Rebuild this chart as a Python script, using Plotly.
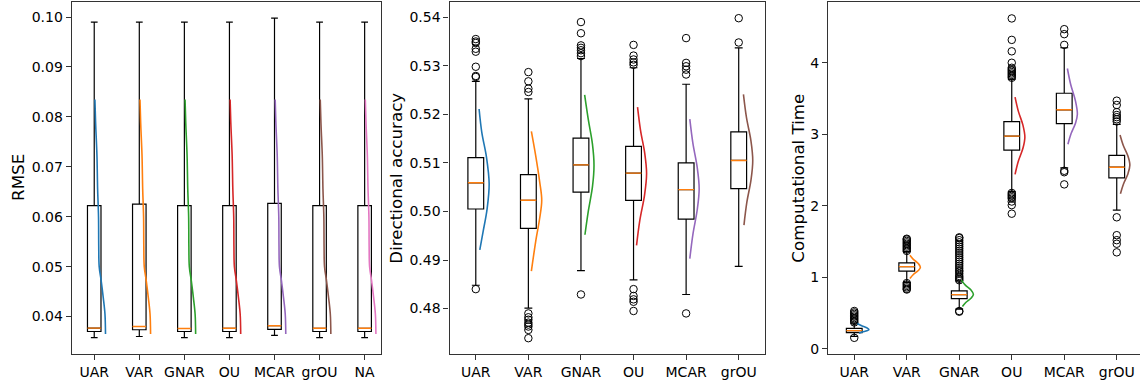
import plotly.graph_objects as go

W, H = 1140, 383
colors = ["#1f77b4", "#ff7f0e", "#2ca02c", "#d62728", "#9467bd", "#8c564b", "#e377c2"]

# ---------------- Panel 1: RMSE ----------------
rmse_cats = ["UAR", "VAR", "GNAR", "OU", "MCAR", "grOU", "NA"]
rmse_lo = [0.03576, 0.0360, 0.03576, 0.03576, 0.03622, 0.03576, 0.03576]
rmse_q1 = [0.0370, 0.03735, 0.0370, 0.0370, 0.03742, 0.0370, 0.0370]
rmse_med = [0.03767, 0.0380, 0.03760, 0.03765, 0.03815, 0.03765, 0.03765]
rmse_q3 = [0.0622, 0.06253, 0.0622, 0.0622, 0.06266, 0.0622, 0.0622]
rmse_hi = [0.0990, 0.0990, 0.0990, 0.0990, 0.0998, 0.0990, 0.0990]
# density curve (value, horizontal extent in category units), same shape for each model
rmse_curve_vals = [0.0835, 0.0789, 0.0723, 0.0656, 0.0600, 0.0540, 0.0500, 0.0471, 0.0438, 0.0405, 0.0365]
rmse_curve_offs = [0.015, 0.03, 0.06, 0.075, 0.095, 0.100, 0.11, 0.155, 0.20, 0.238, 0.25]

# ---------------- Panel 2: Directional accuracy ----------------
da_cats = ["UAR", "VAR", "GNAR", "OU", "MCAR", "grOU"]
da_lo = [0.4848, 0.4801, 0.4878, 0.4859, 0.4829, 0.4887]
da_q1 = [0.5005, 0.4965, 0.5040, 0.5023, 0.4984, 0.5047]
da_med = [0.5059, 0.5023, 0.5096, 0.5079, 0.5045, 0.5105]
da_q3 = [0.5111, 0.5076, 0.5151, 0.5134, 0.5100, 0.5164]
da_hi = [0.5268, 0.5232, 0.5315, 0.5296, 0.5262, 0.5337]
da_outliers = [
    [0.5355, 0.5350, 0.5347, 0.5335, 0.5329, 0.5298, 0.5279, 0.5277, 0.4840],
    [0.5287, 0.5268, 0.5253, 0.5246, 0.4790, 0.4782, 0.4777, 0.4771, 0.4767, 0.4763, 0.4756, 0.4739],
    [0.5390, 0.5367, 0.5342, 0.5337, 0.5332, 0.5326, 0.5320, 0.4829],
    [0.5343, 0.5321, 0.5313, 0.5307, 0.5302, 0.4840, 0.4826, 0.4819, 0.4814, 0.4795],
    [0.5357, 0.5306, 0.5299, 0.5292, 0.5282, 0.4790],
    [0.5398, 0.5348],
]
da_curve_vals = [
    [0.5211, 0.5163, 0.5112, 0.5057, 0.5006, 0.4959, 0.4921],
    [0.5165, 0.5115, 0.5061, 0.5023, 0.4986, 0.4938, 0.4877],
    [0.5240, 0.5189, 0.5139, 0.5095, 0.5052, 0.5002, 0.4952],
    [0.5215, 0.5167, 0.5119, 0.5078, 0.5034, 0.4982, 0.4930],
    [0.5190, 0.5140, 0.5090, 0.5047, 0.5004, 0.4953, 0.4903],
    [0.5241, 0.5193, 0.5146, 0.5105, 0.5065, 0.5019, 0.4972],
]
da_curve_offs = [
    [0.063, 0.114, 0.203, 0.254, 0.216, 0.140, 0.076],
    [0.057, 0.139, 0.215, 0.254, 0.215, 0.139, 0.057],
    [0.070, 0.140, 0.218, 0.248, 0.220, 0.142, 0.076],
    [0.076, 0.133, 0.214, 0.248, 0.210, 0.120, 0.057],
    [0.070, 0.129, 0.212, 0.248, 0.212, 0.129, 0.070],
    [0.090, 0.148, 0.232, 0.267, 0.234, 0.155, 0.100],
]

# ---------------- Panel 3: Computational Time ----------------
ct_cats = ["UAR", "VAR", "GNAR", "OU", "MCAR", "grOU"]
ct_lo = [0.175, 0.93, 0.555, 2.20, 2.53, 1.94]
ct_q1 = [0.227, 1.087, 0.703, 2.78, 3.149, 2.39]
ct_med = [0.255, 1.151, 0.759, 2.974, 3.343, 2.54]
ct_q3 = [0.287, 1.202, 0.81, 3.176, 3.574, 2.705]
ct_hi = [0.36, 1.36, 0.95, 3.77, 4.21, 3.14]
ct_outliers = [
    [0.37, 0.39, 0.41, 0.43, 0.45, 0.47, 0.49, 0.51, 0.53, 0.155],
    [1.37, 1.39, 1.41, 1.43, 1.45, 1.47, 1.49, 1.51, 1.53, 1.54, 0.92, 0.90, 0.88, 0.86, 0.84, 0.83],
    [0.96, 0.98, 1.00, 1.02, 1.05, 1.08, 1.10, 1.13, 1.16, 1.19, 1.22, 1.25, 1.28, 1.31, 1.34,
     1.37, 1.40, 1.43, 1.46, 1.49, 1.52, 1.55, 1.56, 0.53, 0.52],
    [3.79, 3.81, 3.83, 3.85, 3.87, 3.89, 3.91, 3.93, 4.00, 4.16, 4.32, 4.62,
     2.18, 2.16, 2.14, 2.12, 2.10, 2.06, 2.01, 1.89],
    [4.25, 4.40, 4.47, 2.49, 2.47, 2.30],
    [3.47, 3.41, 3.31, 3.27, 3.24, 3.21, 3.18, 1.84, 1.59, 1.52, 1.47, 1.35],
]
ct_curve_vals = [
    [0.356, 0.326, 0.296, 0.27, 0.254, 0.236, 0.218],
    [1.31, 1.252, 1.193, 1.143, 1.096, 1.040, 0.985],
    [0.962, 0.892, 0.823, 0.763, 0.712, 0.652, 0.592],
    [3.52, 3.324, 3.128, 2.96, 2.804, 2.622, 2.44],
    [3.92, 3.696, 3.472, 3.28, 3.154, 3.007, 2.86],
    [2.99, 2.843, 2.696, 2.57, 2.45, 2.31, 2.17],
]
ct_curve_offs = [
    [0.06, 0.133, 0.236, 0.28, 0.242, 0.153, 0.09],
    [0.06, 0.126, 0.22, 0.26, 0.22, 0.126, 0.06],
    [0.04, 0.116, 0.224, 0.27, 0.228, 0.129, 0.06],
    [0.063, 0.125, 0.213, 0.25, 0.213, 0.125, 0.063],
    [0.06, 0.123, 0.212, 0.25, 0.214, 0.129, 0.07],
    [0.063, 0.125, 0.213, 0.25, 0.214, 0.13, 0.07],
]

FONT = "DejaVu Sans"
fig = go.Figure()


def px_x(p):
    return p / W


def px_y(p):
    return (H - p) / H


def add_panel(idx, cats, lo, q1, med, q3, hi, outliers, cvals, coffs, shared_curve=False):
    xa = "x" if idx == 1 else f"x{idx}"
    ya = "y" if idx == 1 else f"y{idx}"
    pos = list(range(1, len(cats) + 1))
    fig.add_trace(go.Box(
        x=pos, q1=q1, median=med, q3=q3, lowerfence=lo, upperfence=hi,
        width=0.3, whiskerwidth=0.5, boxpoints=False,
        line=dict(color="black", width=1.2), fillcolor="rgba(0,0,0,0)",
        xaxis=xa, yaxis=ya, showlegend=False, hoverinfo="skip"))
    for i, p in enumerate(pos):
        fig.add_trace(go.Scatter(
            x=[p - 0.15, p + 0.15], y=[med[i], med[i]], mode="lines",
            line=dict(color="#ff7f0e", width=1.4), xaxis=xa, yaxis=ya,
            showlegend=False, hoverinfo="skip"))
    if outliers is not None:
        for i, p in enumerate(pos):
            fig.add_trace(go.Scatter(
                x=[p] * len(outliers[i]), y=outliers[i], mode="markers",
                marker=dict(symbol="circle-open", size=7.5, color="black", line=dict(width=1)),
                xaxis=xa, yaxis=ya, showlegend=False, hoverinfo="skip"))
    for i, p in enumerate(pos):
        vals = cvals if shared_curve else cvals[i]
        offs = coffs if shared_curve else coffs[i]
        fig.add_trace(go.Scatter(
            x=[p + o for o in offs], y=vals, mode="lines",
            line=dict(color=colors[i], width=1.6, shape="spline", smoothing=1.0),
            xaxis=xa, yaxis=ya, showlegend=False, hoverinfo="skip"))


add_panel(1, rmse_cats, rmse_lo, rmse_q1, rmse_med, rmse_q3, rmse_hi, None,
          rmse_curve_vals, rmse_curve_offs, shared_curve=True)
add_panel(2, da_cats, da_lo, da_q1, da_med, da_q3, da_hi, da_outliers, da_curve_vals, da_curve_offs)
add_panel(3, ct_cats, ct_lo, ct_q1, ct_med, ct_q3, ct_hi, ct_outliers, ct_curve_vals, ct_curve_offs)

ydom = [px_y(357), px_y(1.7)]
axis_common = dict(showgrid=False, zeroline=False, showline=True, linecolor="#333333", linewidth=1.2,
                   ticks="outside", ticklen=5, tickwidth=1.1, tickcolor="#333333",
                   tickfont=dict(family=FONT, size=14, color="black"))

fig.update_layout(
    width=W, height=H, margin=dict(l=0, r=0, t=0, b=0),
    paper_bgcolor="white", plot_bgcolor="white",
    xaxis=dict(domain=[px_x(71.7), px_x(381)], range=[0.5, 7.363], anchor="y", mirror=True,
               tickvals=list(range(1, 8)), ticktext=rmse_cats, **axis_common),
    yaxis=dict(domain=ydom, range=[0.03245, 0.10308], anchor="x", mirror=True,
               tickvals=[0.04, 0.05, 0.06, 0.07, 0.08, 0.09, 0.10], tickformat=".2f", **axis_common),
    xaxis2=dict(domain=[px_x(449.5), px_x(765)], range=[0.5, 6.5], anchor="y2", mirror=True,
                tickvals=list(range(1, 7)), ticktext=da_cats, **axis_common),
    yaxis2=dict(domain=ydom, range=[0.4706, 0.5432], anchor="x2", mirror=True,
                tickvals=[0.48, 0.49, 0.50, 0.51, 0.52, 0.53, 0.54], tickformat=".2f", **axis_common),
    xaxis3=dict(domain=[px_x(828), 1.0], range=[0.5, 6.443], anchor="y3", mirror=True,
                tickvals=list(range(1, 7)), ticktext=ct_cats, **axis_common),
    yaxis3=dict(domain=ydom, range=[-0.074, 4.854], anchor="x3", mirror=False,
                tickvals=[0, 1, 2, 3, 4], **axis_common),
)

ymid = px_y((357 + 1.7) / 2)
for text, xc in [("RMSE", 18), ("Directional accuracy", 395.7), ("Computational Time", 797.7)]:
    fig.add_annotation(text=text, xref="paper", yref="paper", x=px_x(xc), y=ymid,
                       xanchor="center", yanchor="middle", textangle=-90, showarrow=False,
                       font=dict(family=FONT, size=16.7, color="black"))

fig.write_html("out.html")
